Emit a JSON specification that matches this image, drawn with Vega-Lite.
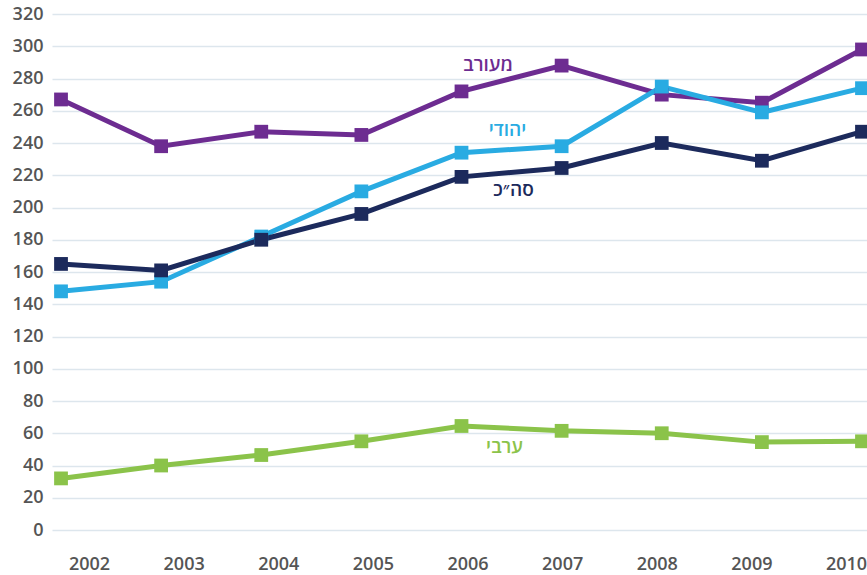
{
  "$schema": "https://vega.github.io/schema/vega-lite/v6.json",
  "width": 815,
  "height": 516,
  "autosize": {"type": "none"},
  "padding": {"left": 52, "top": 14, "right": 0, "bottom": 45},
  "background": "white",
  "config": {
    "view": {"stroke": null},
    "font": "Open Sans"
  },
  "datasets": {
    "series": [
      {"year": 2002, "group": "מעורב", "value": 267},
      {"year": 2003, "group": "מעורב", "value": 238},
      {"year": 2004, "group": "מעורב", "value": 247},
      {"year": 2005, "group": "מעורב", "value": 245},
      {"year": 2006, "group": "מעורב", "value": 272},
      {"year": 2007, "group": "מעורב", "value": 288},
      {"year": 2008, "group": "מעורב", "value": 270},
      {"year": 2009, "group": "מעורב", "value": 265},
      {"year": 2010, "group": "מעורב", "value": 298},
      {"year": 2002, "group": "יהודי", "value": 148},
      {"year": 2003, "group": "יהודי", "value": 154},
      {"year": 2004, "group": "יהודי", "value": 182},
      {"year": 2005, "group": "יהודי", "value": 210},
      {"year": 2006, "group": "יהודי", "value": 234},
      {"year": 2007, "group": "יהודי", "value": 238},
      {"year": 2008, "group": "יהודי", "value": 275},
      {"year": 2009, "group": "יהודי", "value": 259},
      {"year": 2010, "group": "יהודי", "value": 274},
      {"year": 2002, "group": "סה״כ", "value": 165},
      {"year": 2003, "group": "סה״כ", "value": 161},
      {"year": 2004, "group": "סה״כ", "value": 180},
      {"year": 2005, "group": "סה״כ", "value": 196},
      {"year": 2006, "group": "סה״כ", "value": 219},
      {"year": 2007, "group": "סה״כ", "value": 224.5},
      {"year": 2008, "group": "סה״כ", "value": 240},
      {"year": 2009, "group": "סה״כ", "value": 229},
      {"year": 2010, "group": "סה״כ", "value": 247},
      {"year": 2002, "group": "ערבי", "value": 32},
      {"year": 2003, "group": "ערבי", "value": 40},
      {"year": 2004, "group": "ערבי", "value": 46.5},
      {"year": 2005, "group": "ערבי", "value": 55},
      {"year": 2006, "group": "ערבי", "value": 64.5},
      {"year": 2007, "group": "ערבי", "value": 61.5},
      {"year": 2008, "group": "ערבי", "value": 60},
      {"year": 2009, "group": "ערבי", "value": 54.5},
      {"year": 2010, "group": "ערבי", "value": 55}
    ],
    "labels": [
      {"group": "מעורב", "lx": 2006.265, "ly": 288.5},
      {"group": "יהודי", "lx": 2006.46, "ly": 248},
      {"group": "סה״כ", "lx": 2006.52, "ly": 211},
      {"group": "ערבי", "lx": 2006.43, "ly": 51.5}
    ]
  },
  "layer": [
    {
      "data": {"name": "series"},
      "mark": {"type": "line", "strokeWidth": 5, "point": {"shape": "square", "size": 190, "filled": true, "opacity": 1}},
      "encoding": {
        "x": {
          "field": "year", "type": "quantitative",
          "scale": {"domain": [2001.91, 2010.05], "nice": false, "zero": false},
          "axis": {
            "values": [2002, 2003, 2004, 2005, 2006, 2007, 2008, 2009, 2010],
            "format": "d", "title": null, "grid": false, "domain": false, "ticks": false,
            "labelFlush": false, "labelOverlap": false, "labelPadding": 25, "labelFontSize": 18, "labelFontWeight": 600,
            "labelColor": "#555555", "labelFont": "Open Sans",
            "labelOffset": {"expr": "28 - (datum.value - 2002) * 5.5"}
          }
        },
        "y": {
          "field": "value", "type": "quantitative",
          "scale": {"domain": [0, 320], "nice": false},
          "axis": {
            "values": [0, 20, 40, 60, 80, 100, 120, 140, 160, 180, 200, 220, 240, 260, 280, 300, 320],
            "title": null, "domain": false, "ticks": false, "labelPadding": 9, "labelOverlap": false,
            "labelFontSize": 18, "labelFontWeight": 600, "labelColor": "#555555", "labelFont": "Open Sans",
            "gridColor": "#dde6ed", "gridWidth": 1.5
          }
        },
        "color": {
          "field": "group", "type": "nominal", "legend": null,
          "scale": {"domain": ["מעורב", "יהודי", "סה״כ", "ערבי"], "range": ["#6d2c91", "#29abe2", "#1c2a5c", "#8bc34a"]}
        },
        "order": {"field": "year"}
      }
    },
    {
      "data": {"name": "labels"},
      "mark": {"type": "text", "fontSize": 19, "fontWeight": 600, "font": "Open Sans", "align": "center", "baseline": "middle"},
      "encoding": {
        "x": {
          "field": "lx", "type": "quantitative",
          "axis": {
            "values": [2002, 2003, 2004, 2005, 2006, 2007, 2008, 2009, 2010],
            "format": "d", "title": null, "grid": false, "domain": false, "ticks": false,
            "labelFlush": false, "labelOverlap": false, "labelPadding": 25, "labelFontSize": 18, "labelFontWeight": 600,
            "labelColor": "#555555", "labelFont": "Open Sans",
            "labelOffset": {"expr": "28 - (datum.value - 2002) * 5.5"}
          }
        },
        "y": {
          "field": "ly", "type": "quantitative",
          "axis": {
            "values": [0, 20, 40, 60, 80, 100, 120, 140, 160, 180, 200, 220, 240, 260, 280, 300, 320],
            "title": null, "domain": false, "ticks": false, "labelPadding": 9, "labelOverlap": false,
            "labelFontSize": 18, "labelFontWeight": 600, "labelColor": "#555555", "labelFont": "Open Sans",
            "gridColor": "#dde6ed", "gridWidth": 1.5
          }
        },
        "text": {"field": "group"},
        "color": {"field": "group", "type": "nominal", "legend": null}
      }
    }
  ]
}
